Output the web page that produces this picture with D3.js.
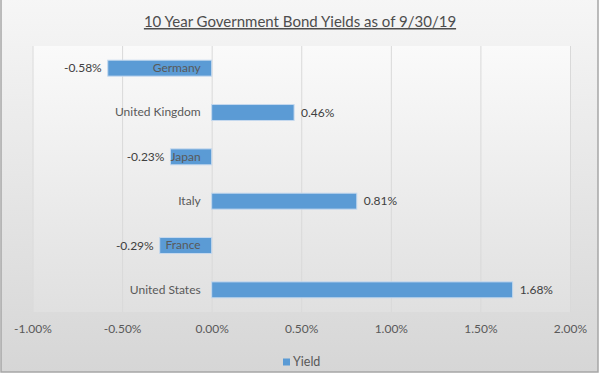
<!DOCTYPE html>
<html><head><meta charset="utf-8">
<script src="https://cdn.jsdelivr.net/npm/d3@7"></script>
<style>html,body{margin:0;padding:0;background:#fff}svg{display:block}</style>
</head><body>
<svg id="chart" width="600" height="376"></svg>
<script>
const title = "10 Year Government Bond Yields as of 9/30/19";
const categories = ["Germany","United Kingdom","Japan","Italy","France","United States"];
const yields = [-0.58, 0.46, -0.23, 0.81, -0.29, 1.68];
const tickValues = [-1.0, -0.5, 0.0, 0.5, 1.0, 1.5, 2.0];
const seriesName = "Yield";

const W = 600, H = 376;
const svg = d3.select("#chart");
const font = "Lato, 'Open Sans', sans-serif";
const defs = svg.append("defs");
const bg = defs.append("linearGradient").attr("id","bg").attr("x1",0).attr("y1",0).attr("x2",0).attr("y2",1);
bg.append("stop").attr("offset","0%").attr("stop-color","#f6f6f6");
bg.append("stop").attr("offset","100%").attr("stop-color","#d6d6d6");
const pg = defs.append("linearGradient").attr("id","pg").attr("x1",0).attr("y1",0).attr("x2",0).attr("y2",1);
pg.append("stop").attr("offset","0%").attr("stop-color","#fafafa");
pg.append("stop").attr("offset","100%").attr("stop-color","#e0e0e0");

svg.append("rect").attr("x",0).attr("y",0).attr("width",W).attr("height",H).attr("fill","#ffffff");
svg.append("rect").attr("x",1).attr("y",-2).attr("width",597).attr("height",374)
  .attr("fill","url(#bg)").attr("stroke","#a6a6a6").attr("stroke-width",1.5);

const m = {left:32.5, right:570, top:46, bottom:312};
const x = d3.scaleLinear().domain([-1.0, 2.0]).range([m.left, m.right]);
const y = d3.scaleBand().domain(categories).range([m.top, m.bottom]).paddingInner(0.64).paddingOuter(0.32);

svg.append("rect").attr("x",m.left).attr("y",m.top).attr("width",m.right-m.left).attr("height",m.bottom-m.top)
  .attr("fill","url(#pg)");

// gridlines via axis
svg.append("g").attr("transform",`translate(0,${m.top})`)
  .call(d3.axisBottom(x).tickValues(tickValues).tickSize(m.bottom-m.top).tickFormat(""))
  .call(g=>g.select(".domain").remove())
  .call(g=>g.selectAll("line").attr("stroke","#d9d9d9").attr("stroke-width",1));

// tick labels
svg.append("g").attr("transform",`translate(0,${m.bottom})`)
  .call(d3.axisBottom(x).tickValues(tickValues).tickSize(0).tickPadding(12).tickFormat(d=>d.toFixed(2)+"%"))
  .call(g=>g.select(".domain").remove())
  .call(g=>g.selectAll("text").attr("fill","#595959").attr("font-family",font).attr("font-size",12));

// bars
svg.append("g").selectAll("rect").data(categories).join("rect")
  .attr("x",(d,i)=>x(Math.min(0,yields[i])))
  .attr("y",d=>y(d))
  .attr("width",(d,i)=>Math.abs(x(yields[i])-x(0)))
  .attr("height",y.bandwidth())
  .attr("fill","#5b9bd5").attr("stroke","#c5d9ee").attr("stroke-width",1);

// category labels at zero
svg.append("g").attr("transform",`translate(${x(0)},0)`)
  .call(d3.axisLeft(y).tickSize(0).tickPadding(11))
  .call(g=>g.select(".domain").remove())
  .call(g=>g.selectAll("text").attr("fill","#595959").attr("font-family",font).attr("font-size",12));

// value labels
svg.append("g").selectAll("text").data(categories).join("text")
  .attr("x",(d,i)=>yields[i]<0 ? x(yields[i])-6 : x(yields[i])+7)
  .attr("y",d=>y(d)+y.bandwidth()/2)
  .attr("dy","0.35em")
  .attr("text-anchor",(d,i)=>yields[i]<0?"end":"start")
  .attr("fill","#404040").attr("font-family",font).attr("font-size",12)
  .text((d,i)=>yields[i].toFixed(2)+"%");

// title
svg.append("text").attr("x",300).attr("y",27).attr("text-anchor","middle")
  .attr("fill","#4d4d4d").attr("font-family",font).attr("font-size",15)
  .attr("text-decoration","underline").text(title);

// legend
const lg = svg.append("g").attr("transform","translate(283,362)");
lg.append("rect").attr("x",0).attr("y",-3.5).attr("width",7).attr("height",7).attr("fill","#5b9bd5");
lg.append("text").attr("x",10).attr("y",0).attr("dy","0.35em").attr("fill","#595959")
  .attr("font-family",font).attr("font-size",12.5).text(seriesName);
</script>
</body></html>
